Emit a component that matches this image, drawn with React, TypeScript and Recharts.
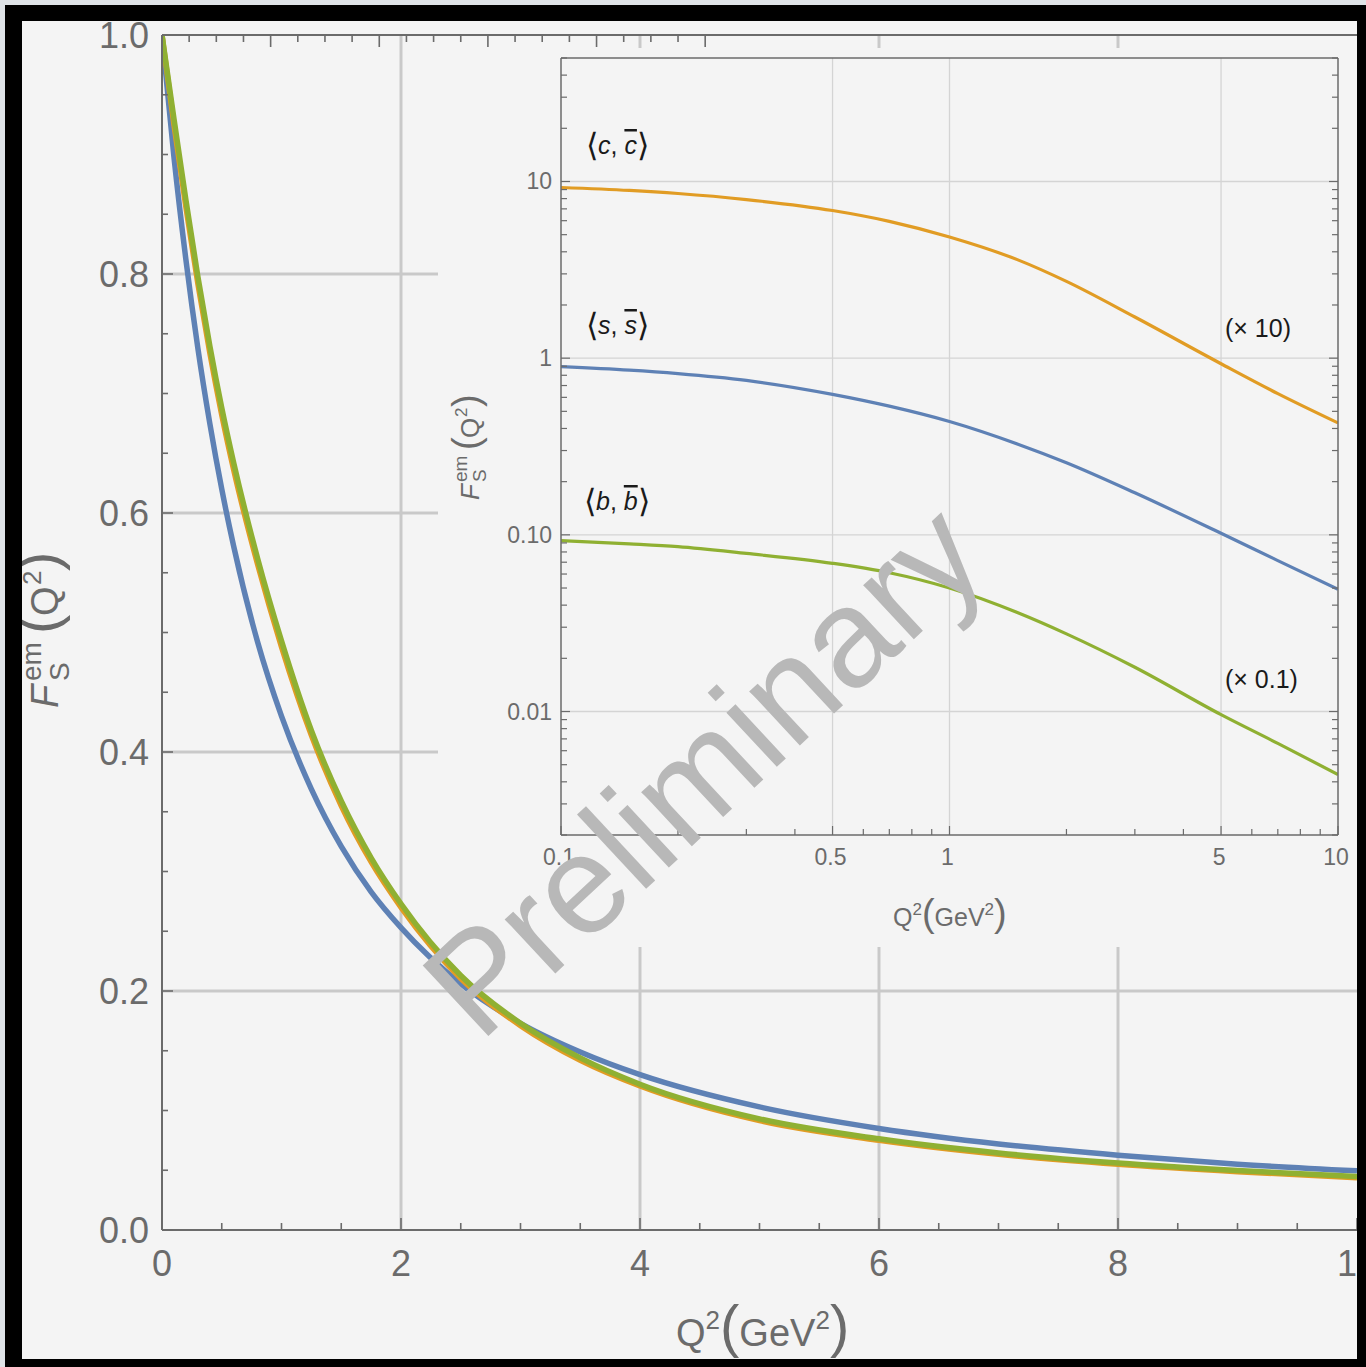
import React from 'react';
import { LineChart, Line, XAxis, YAxis, CartesianGrid } from 'recharts';

const FONT = '"Liberation Sans", Arial, Helvetica, sans-serif';
const AXIS = '#6b6b6b';
const GRID_MAIN = '#c9c9c9';
const GRID_INSET = '#d4d4d4';
const BLUE = '#5e81b5';
const ORANGE = '#e19c24';
const GREEN = '#8fb032';
const BG = '#f4f4f4';
const INK = '#1a1a1a';

// ---------- main panel (linear) ----------
const mainQ2 = [0, 0.1, 0.2, 0.3, 0.4, 0.5, 0.6, 0.8, 1.0, 1.25, 1.5, 1.75, 2, 2.5, 3, 3.5, 4, 5, 6, 7, 8, 9, 10];
const mainS = [1.0, 0.898, 0.812, 0.738, 0.675, 0.62, 0.572, 0.492, 0.43, 0.369, 0.321, 0.283, 0.253, 0.206, 0.173, 0.149, 0.13, 0.103, 0.085, 0.072, 0.0626, 0.0551, 0.0495];
const mainC = [1.0, 0.925, 0.856, 0.792, 0.734, 0.682, 0.636, 0.557, 0.488, 0.414, 0.355, 0.308, 0.27, 0.2105, 0.171, 0.142, 0.1205, 0.0915, 0.075, 0.0633, 0.055, 0.0488, 0.0437];
const mainB = [1.0, 0.93, 0.862, 0.798, 0.74, 0.688, 0.642, 0.562, 0.493, 0.418, 0.359, 0.3115, 0.273, 0.213, 0.173, 0.144, 0.122, 0.093, 0.0763, 0.0645, 0.056, 0.0497, 0.0447];

const mainXTicks = [0, 0.5, 1, 1.5, 2, 2.5, 3, 3.5, 4, 4.5, 5, 5.5, 6, 6.5, 7, 7.5, 8, 8.5, 9, 9.5, 10];
const mainXLabels = [0, 2, 4, 6, 8, 10];
const mainYTicks = [0, 0.05, 0.1, 0.15, 0.2, 0.25, 0.3, 0.35, 0.4, 0.45, 0.5, 0.55, 0.6, 0.65, 0.7, 0.75, 0.8, 0.85, 0.9, 0.95, 1.0];
const mainYLabels = [0, 0.2, 0.4, 0.6, 0.8, 1.0];
const mainGridX = [2, 4, 6, 8];
const mainGridY = [0.2, 0.4, 0.6, 0.8];

// ---------- inset (log-log) ----------
const insetQ2 = [0.1, 0.15, 0.2, 0.3, 0.5, 0.7, 1, 1.5, 2, 3, 5, 7, 10];
const insetS = [0.895, 0.855, 0.817, 0.748, 0.624, 0.535, 0.438, 0.326, 0.256, 0.173, 0.102, 0.0715, 0.0492];
const insetCx10 = [9.25, 8.9, 8.55, 7.9, 6.85, 5.95, 4.85, 3.6, 2.72, 1.71, 0.93, 0.63, 0.43];
const insetBx01 = [0.0928, 0.089, 0.0858, 0.0785, 0.069, 0.061, 0.05, 0.0362, 0.0275, 0.0178, 0.0096, 0.0066, 0.0044];

const insetXTicks = [0.1, 0.2, 0.3, 0.4, 0.5, 0.6, 0.7, 0.8, 0.9, 1, 2, 3, 4, 5, 6, 7, 8, 9, 10];
const insetXLabelVals = [0.1, 0.5, 1, 5, 10];
const insetXLabelText = ['0.1', '0.5', '1', '5', '10'];
const insetYTicks = [0.002, 0.003, 0.004, 0.005, 0.006, 0.007, 0.008, 0.009, 0.01, 0.02, 0.03, 0.04, 0.05, 0.06, 0.07, 0.08, 0.09, 0.1, 0.2, 0.3, 0.4, 0.5, 0.6, 0.7, 0.8, 0.9, 1, 2, 3, 4, 5, 6, 7, 8, 9, 10, 20, 30, 40, 50];
const insetYLabelVals = [0.01, 0.1, 1, 10];
const insetYLabelText = ['0.01', '0.10', '1', '10'];
const insetGridX = [0.5, 1, 5];
const insetGridY = [0.01, 0.1, 1, 10];

const mainData = mainQ2.map((q, i) => ({ q2: q, s: mainS[i], c: mainC[i], b: mainB[i] }));
const insetData = insetQ2.map((q, i) => ({ q2: q, s: insetS[i], c: insetCx10[i], b: insetBx01[i] }));

const near = (a: number, b: number) => Math.abs(a - b) <= 1e-6 * Math.max(1e-6, Math.abs(b));
const findIdx = (arr: number[], v: number) => arr.findIndex((a) => near(a, v));

// ---------- tick renderers ----------
const MainBottomTick = (p: any) => {
  const { x, y, payload } = p;
  const i = findIdx(mainXLabels, payload.value);
  const major = i >= 0;
  return (
    <g>
      <line x1={x} x2={x} y1={y} y2={y - (major ? 12 : 7)} stroke={AXIS} strokeWidth={1.6} />
      {major && (
        <text x={x} y={y + 46} textAnchor="middle" fontFamily={FONT} fontSize={36} fill={AXIS}>
          {String(mainXLabels[i])}
        </text>
      )}
    </g>
  );
};
const MainTopTick = (p: any) => {
  const { x, y, payload } = p;
  const major = findIdx(mainXLabels, payload.value) >= 0;
  return <line x1={x} x2={x} y1={y} y2={y + (major ? 12 : 7)} stroke={AXIS} strokeWidth={1.6} />;
};
const MainLeftTick = (p: any) => {
  const { x, y, payload } = p;
  const i = findIdx(mainYLabels, payload.value);
  const major = i >= 0;
  return (
    <g>
      <line x1={x} x2={x + (major ? 11 : 6)} y1={y} y2={y} stroke={AXIS} strokeWidth={1.6} />
      {major && (
        <text x={x - 13} y={y + 13} textAnchor="end" fontFamily={FONT} fontSize={36} fill={AXIS}>
          {mainYLabels[i].toFixed(1)}
        </text>
      )}
    </g>
  );
};

const InsetBottomTick = (p: any) => {
  const { x, y, payload } = p;
  const i = findIdx(insetXLabelVals, payload.value);
  const major = i >= 0;
  return (
    <g>
      <line x1={x} x2={x} y1={y} y2={y - (major ? 9 : 6)} stroke={AXIS} strokeWidth={1.2} />
      {major && (
        <text x={x - 2} y={y + 30} textAnchor="middle" fontFamily={FONT} fontSize={23} fill={AXIS}>
          {insetXLabelText[i]}
        </text>
      )}
    </g>
  );
};
const InsetTopTick = (p: any) => {
  const { x, y, payload } = p;
  const major = findIdx(insetXLabelVals, payload.value) >= 0;
  return <line x1={x} x2={x} y1={y} y2={y + (major ? 9 : 6)} stroke={AXIS} strokeWidth={1.2} />;
};
const InsetLeftTick = (p: any) => {
  const { x, y, payload } = p;
  const i = findIdx(insetYLabelVals, payload.value);
  const major = i >= 0;
  return (
    <g>
      <line x1={x} x2={x + (major ? 9 : 6)} y1={y} y2={y} stroke={AXIS} strokeWidth={1.2} />
      {major && (
        <text x={x - 9} y={y + 8} textAnchor="end" fontFamily={FONT} fontSize={23} fill={AXIS}>
          {insetYLabelText[i]}
        </text>
      )}
    </g>
  );
};
const InsetRightTick = (p: any) => {
  const { x, y, payload } = p;
  const major = findIdx(insetYLabelVals, payload.value) >= 0;
  return <line x1={x} x2={x - (major ? 9 : 6)} y1={y} y2={y} stroke={AXIS} strokeWidth={1.2} />;
};

const axisLineMain = { stroke: AXIS, strokeWidth: 2 };
const axisLineInset = { stroke: AXIS, strokeWidth: 1.5 };

function MainChart() {
  return (
    <LineChart width={1400} height={1367} data={mainData} margin={{ top: 34, right: 43, bottom: 0, left: 0 }}>
      <CartesianGrid
        horizontal
        vertical
        horizontalValues={mainGridY}
        verticalValues={mainGridX}
        stroke={GRID_MAIN}
        strokeWidth={3}
      />
      <XAxis
        type="number"
        dataKey="q2"
        domain={[0, 10]}
        allowDataOverflow
        ticks={mainXTicks}
        interval={0}
        tickSize={0}
        tickMargin={0}
        tickLine={false}
        tick={MainBottomTick}
        axisLine={axisLineMain}
        height={137}
      />
      <XAxis
        xAxisId="top"
        orientation="top"
        type="number"
        domain={[0, 10]}
        allowDataOverflow
        ticks={mainXTicks}
        interval={0}
        tickSize={0}
        tickMargin={0}
        tickLine={false}
        tick={MainTopTick}
        axisLine={axisLineMain}
        height={1}
      />
      <YAxis
        type="number"
        domain={[0, 1]}
        allowDataOverflow
        ticks={mainYTicks}
        interval={0}
        tickSize={0}
        tickMargin={0}
        tickLine={false}
        tick={MainLeftTick}
        axisLine={axisLineMain}
        width={162}
      />
      <Line type="monotone" dataKey="s" stroke={BLUE} strokeWidth={5.5} dot={false} isAnimationActive={false} />
      <Line type="monotone" dataKey="c" stroke={ORANGE} strokeWidth={5.5} dot={false} isAnimationActive={false} />
      <Line type="monotone" dataKey="b" stroke={GREEN} strokeWidth={5.5} dot={false} isAnimationActive={false} />
    </LineChart>
  );
}

function InsetChart() {
  return (
    <LineChart width={928} height={899} data={insetData} margin={{ top: 9, right: 27, bottom: 0, left: 0 }}>
      <CartesianGrid
        horizontal
        vertical
        horizontalValues={insetGridY}
        verticalValues={insetGridX}
        stroke={GRID_INSET}
        strokeWidth={1.3}
      />
      <XAxis
        type="number"
        scale="log"
        dataKey="q2"
        domain={[0.1, 10]}
        allowDataOverflow
        ticks={insetXTicks}
        interval={0}
        tickSize={0}
        tickMargin={0}
        tickLine={false}
        tick={InsetBottomTick}
        axisLine={axisLineInset}
        height={112}
      />
      <XAxis
        xAxisId="top"
        orientation="top"
        type="number"
        scale="log"
        domain={[0.1, 10]}
        allowDataOverflow
        ticks={insetXTicks}
        interval={0}
        tickSize={0}
        tickMargin={0}
        tickLine={false}
        tick={InsetTopTick}
        axisLine={axisLineInset}
        height={1}
      />
      <YAxis
        type="number"
        scale="log"
        domain={[0.002, 50]}
        allowDataOverflow
        ticks={insetYTicks}
        interval={0}
        tickSize={0}
        tickMargin={0}
        tickLine={false}
        tick={InsetLeftTick}
        axisLine={axisLineInset}
        width={123}
      />
      <YAxis
        yAxisId="right"
        orientation="right"
        type="number"
        scale="log"
        domain={[0.002, 50]}
        allowDataOverflow
        ticks={insetYTicks}
        interval={0}
        tickSize={0}
        tickMargin={0}
        tickLine={false}
        tick={InsetRightTick}
        axisLine={axisLineInset}
        width={1}
      />
      <Line type="monotone" dataKey="c" stroke={ORANGE} strokeWidth={3.2} dot={false} isAnimationActive={false} />
      <Line type="monotone" dataKey="s" stroke={BLUE} strokeWidth={3.2} dot={false} isAnimationActive={false} />
      <Line type="monotone" dataKey="b" stroke={GREEN} strokeWidth={3.2} dot={false} isAnimationActive={false} />
    </LineChart>
  );
}

function Overlay() {
  return (
    <svg width={1366} height={1367} style={{ position: 'absolute', left: 0, top: 0, pointerEvents: 'none' }} fontFamily={FONT}>
      {/* main x title */}
      <text x={676} y={1346} fontSize={38} fill={AXIS}>
        Q<tspan dy={-17} fontSize={26}>2</tspan>
        <tspan dy={17} fontSize={58}>(</tspan>GeV<tspan dy={-17} fontSize={26}>2</tspan>
        <tspan dy={17} fontSize={58}>)</tspan>
      </text>
      {/* main y title */}
      <g transform="translate(58,631) rotate(-90)" fill={AXIS}>
        <text x={-77} y={0} fontSize={38} fontStyle="italic">F</text>
        <text x={-50} y={-17} fontSize={28}>em</text>
        <text x={-50} y={11} fontSize={28}>S</text>
        <text x={-3} y={0} fontSize={58}>(</text>
        <text x={15} y={0} fontSize={38}>Q</text>
        <text x={46} y={-17} fontSize={26}>2</text>
        <text x={60} y={0} fontSize={58}>)</text>
      </g>
      {/* inset x title */}
      <text x={893} y={926} fontSize={25} fill={AXIS}>
        Q<tspan dy={-11} fontSize={17}>2</tspan>
        <tspan dy={11} fontSize={38}>(</tspan>GeV<tspan dy={-11} fontSize={17}>2</tspan>
        <tspan dy={11} fontSize={38}>)</tspan>
      </text>
      {/* inset y title */}
      <g transform="translate(479,447) rotate(-90)" fill={AXIS}>
        <text x={-53} y={0} fontSize={26} fontStyle="italic">F</text>
        <text x={-35} y={-12} fontSize={19}>em</text>
        <text x={-35} y={7} fontSize={19}>S</text>
        <text x={-3} y={0} fontSize={38}>(</text>
        <text x={9} y={0} fontSize={26}>Q</text>
        <text x={30} y={-12} fontSize={17}>2</text>
        <text x={40} y={0} fontSize={38}>)</text>
      </g>
      {/* inset annotations */}
      <text x={586} y={154} fontSize={25} fill={INK}>
        <tspan fontSize={32} dy={2}>⟨</tspan>
        <tspan fontStyle="italic" dy={-2}>c</tspan>, <tspan fontStyle="italic" style={{ textDecoration: 'overline' }}>c</tspan>
        <tspan fontSize={32} dy={2}>⟩</tspan>
      </text>
      <text x={586} y={334} fontSize={25} fill={INK}>
        <tspan fontSize={32} dy={2}>⟨</tspan>
        <tspan fontStyle="italic" dy={-2}>s</tspan>, <tspan fontStyle="italic" style={{ textDecoration: 'overline' }}>s</tspan>
        <tspan fontSize={32} dy={2}>⟩</tspan>
      </text>
      <text x={584} y={510} fontSize={25} fill={INK}>
        <tspan fontSize={32} dy={2}>⟨</tspan>
        <tspan fontStyle="italic" dy={-2}>b</tspan>, <tspan fontStyle="italic" style={{ textDecoration: 'overline' }}>b</tspan>
        <tspan fontSize={32} dy={2}>⟩</tspan>
      </text>
      <text x={1225} y={337} fontSize={25} fill={INK}>(× 10)</text>
      <text x={1225} y={688} fontSize={25} fill={INK}>(× 0.1)</text>
      {/* watermark */}
      <text x={736} y={805} textAnchor="middle" fontSize={140} fill="#b8b8b8" transform="rotate(-43 736 805)">
        Preliminary
      </text>
      {/* outer band and rough frame */}
      <rect x={0} y={0} width={1366} height={5} fill="#dfe3e7" />
      <rect x={0} y={0} width={5} height={1367} fill="#dfe3e7" />
      <rect x={5} y={5} width={17} height={1362} fill="#000" />
      <rect x={5} y={5} width={1361} height={16} fill="#000" />
      <rect x={1357} y={5} width={9} height={1362} fill="#000" />
      <rect x={5} y={1359} width={1361} height={8} fill="#000" />
    </svg>
  );
}

export default function App() {
  return (
    <div style={{ position: 'relative', width: 1366, height: 1367, overflow: 'hidden', background: BG, fontFamily: FONT }}>
      <style>{'body{margin:0}'}</style>
      <div style={{ position: 'absolute', left: 0, top: 0 }}>
        <MainChart />
      </div>
      <div style={{ position: 'absolute', left: 438, top: 48, width: 928, height: 899, background: BG }}>
        <InsetChart />
      </div>
      <Overlay />
    </div>
  );
}
